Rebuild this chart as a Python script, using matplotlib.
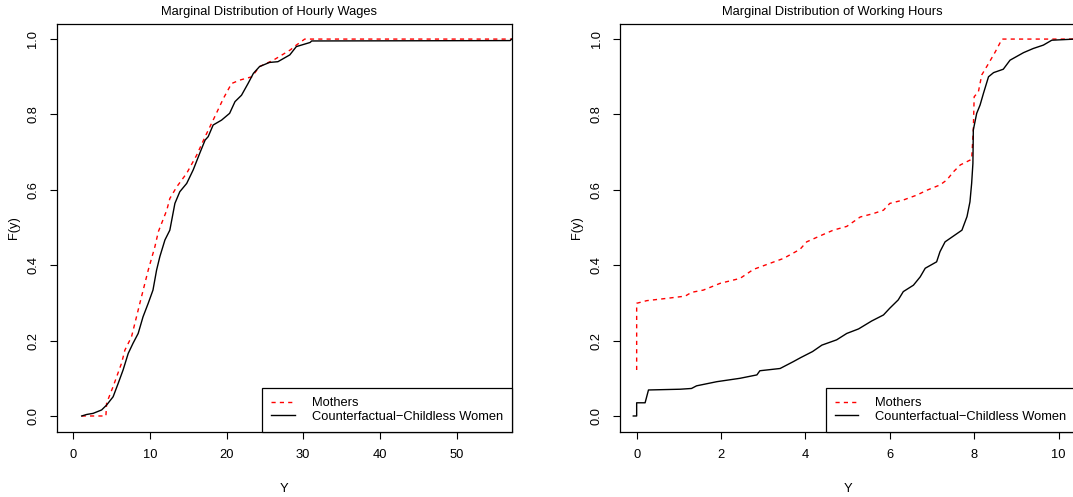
import numpy as np
import matplotlib
matplotlib.use("Agg")
import matplotlib.pyplot as plt

plt.rcParams['font.family'] = ['Liberation Sans', 'DejaVu Sans']

## Hourly wages: ECDF
wage_moth_x = [1.1, 4.26, 4.35, 5.2, 6.3, 6.74, 7.6, 8.7, 9.78, 10.65, 11.1, 12.2, 12.6,
               13.5, 14.8, 16.1, 17.2, 18.25, 19.6, 20.65, 21.7, 23.3, 24.3, 26.1, 28.3,
               29.1, 30.2, 57.2]
wage_moth_F = [0.0, 0.0, 0.034, 0.078, 0.14, 0.175, 0.21, 0.30, 0.387, 0.449, 0.489, 0.546,
               0.577, 0.608, 0.644, 0.692, 0.741, 0.785, 0.843, 0.882, 0.891, 0.90, 0.927,
               0.944, 0.971, 0.984, 1.0, 1.0]
wage_cf_x = [1.1, 1.75, 2.6, 3.7, 4.35, 5.2, 5.87, 6.5, 7.17, 7.8, 8.47, 9.1, 9.78, 10.4,
             10.87, 11.3, 11.96, 12.6, 13.26, 13.9, 14.8, 15.65, 16.5, 17.2, 17.6, 18.25,
             19.35, 20.4, 21.1, 21.95, 22.8, 23.5, 24.3, 25.6, 26.7, 28.25, 29.1, 30.9,
             31.1, 57.0, 57.2]
wage_cf_F = [0.0, 0.004, 0.007, 0.016, 0.029, 0.051, 0.087, 0.122, 0.166, 0.193, 0.219,
             0.263, 0.299, 0.334, 0.387, 0.423, 0.467, 0.493, 0.564, 0.595, 0.617, 0.653,
             0.697, 0.732, 0.741, 0.772, 0.785, 0.803, 0.834, 0.851, 0.882, 0.909, 0.927,
             0.938, 0.94, 0.958, 0.98, 0.991, 0.995, 0.996, 1.0]

## Working hours
hrs_moth_x = [0.0, 0.0, 0.24, 0.71, 1.15, 1.3, 1.58, 1.98, 2.45, 2.77, 3.16, 3.48, 3.87,
              4.03, 4.35, 4.66, 4.98, 5.3, 5.61, 5.85, 6.0, 6.32, 6.64, 6.88, 7.19, 7.35,
              7.51, 7.67, 7.94, 7.98, 8.0, 8.1, 8.18, 8.34, 8.5, 8.66, 10.4]
hrs_moth_F = [0.122, 0.299, 0.306, 0.312, 0.318, 0.328, 0.334, 0.352, 0.365, 0.389, 0.405,
              0.418, 0.442, 0.462, 0.478, 0.493, 0.503, 0.528, 0.537, 0.546, 0.564, 0.573,
              0.586, 0.599, 0.613, 0.626, 0.648, 0.666, 0.681, 0.759, 0.847, 0.86, 0.905,
              0.935, 0.966, 1.0, 1.0]
hrs_cf_x = [-0.08, 0.0, 0.0, 0.2, 0.28, 1.03, 1.3, 1.42, 1.9, 2.45, 2.85, 2.92, 3.4, 3.71,
            3.89, 4.17, 4.39, 4.74, 4.98, 5.26, 5.57, 5.85, 6.0, 6.2, 6.32, 6.56, 6.72,
            6.84, 7.11, 7.19, 7.31, 7.71, 7.83, 7.9, 7.94, 7.97, 7.98, 8.06, 8.14, 8.22,
            8.34, 8.46, 8.69, 8.85, 9.17, 9.4, 9.64, 9.84, 10.4]
hrs_cf_F = [0.0, 0.0, 0.035, 0.035, 0.069, 0.071, 0.073, 0.08, 0.091, 0.1, 0.109, 0.12,
            0.126, 0.144, 0.155, 0.171, 0.188, 0.202, 0.219, 0.231, 0.252, 0.268, 0.286,
            0.308, 0.33, 0.347, 0.369, 0.392, 0.409, 0.436, 0.462, 0.493, 0.529, 0.568,
            0.617, 0.67, 0.759, 0.803, 0.825, 0.856, 0.9, 0.911, 0.92, 0.944, 0.964,
            0.975, 0.984, 0.997, 1.0]

titles = ["Marginal Distribution of Hourly Wages", "Marginal Distribution of Working Hours"]
labels = ["Mothers", "Counterfactual\u2212Childless Women"]
xticks = [[0, 10, 20, 30, 40, 50], [0, 2, 4, 6, 8, 10]]
xlims = [(-2.16, 57.2), (-0.395, 10.39)]
yticks = [0.0, 0.2, 0.4, 0.6, 0.8, 1.0]

W, H = 1073, 497
fig = plt.figure(figsize=(W / 100, H / 100), dpi=100)
## axes boxes in pixels: left, top, right, bottom
boxes = [(56.7, 24, 511.7, 431.7), (620, 24, 1075, 431.7)]
fs = 9.3

data = [(wage_moth_x, wage_moth_F, wage_cf_x, wage_cf_F),
        (hrs_moth_x, hrs_moth_F, hrs_cf_x, hrs_cf_F)]

for i in range(2):
    l, t, r, b = boxes[i]
    ax = fig.add_axes([l / W, 1 - b / H, (r - l) / W, (b - t) / H])
    mx, mF, cx, cF = data[i]
    ax.plot(mx, mF, color='red', lw=1.0, linestyle=(0, (3, 3)), label=labels[0])
    ax.plot(cx, cF, color='black', lw=1.0, label=labels[1])
    ax.set_xlim(*xlims[i])
    ax.set_ylim(-0.0417, 1.04)
    ax.set_xticks(xticks[i])
    ax.set_yticks(yticks)
    ax.set_yticklabels([f"{v:.1f}" for v in yticks])
    ax.tick_params(axis='both', direction='out', length=5, width=0.8, labelsize=fs,
                   pad=7.5, colors='black')
    ax.tick_params(axis='y', labelrotation=90)
    for lab in ax.get_yticklabels():
        lab.set_va('center')
    for sp in ax.spines.values():
        sp.set_linewidth(0.9)
        sp.set_color('black')
    ax.set_xlabel("Y", fontsize=fs)
    ax.set_ylabel("F(y)", fontsize=fs)
    ## label positions: 43 px left of the box, 51 px below it
    ax.xaxis.set_label_coords(0.5, (b - 483) / (b - t))
    ax.yaxis.set_label_coords(-43 / (r - l), 0.5)
    ax.yaxis.label.set_va('center')
    leg = ax.legend(loc='lower right', borderaxespad=0, fancybox=False, fontsize=fs,
                    framealpha=1, edgecolor='black', borderpad=0.7, labelspacing=0.1,
                    handlelength=1.8, handletextpad=1.3)
    leg.get_frame().set_linewidth(0.9)
    fig.text(((l + r) / 2 - 15) / W, 1 - 12 / H, titles[i], ha='center', va='center',
             fontsize=fs)

fig.savefig("out.png", dpi=100)
